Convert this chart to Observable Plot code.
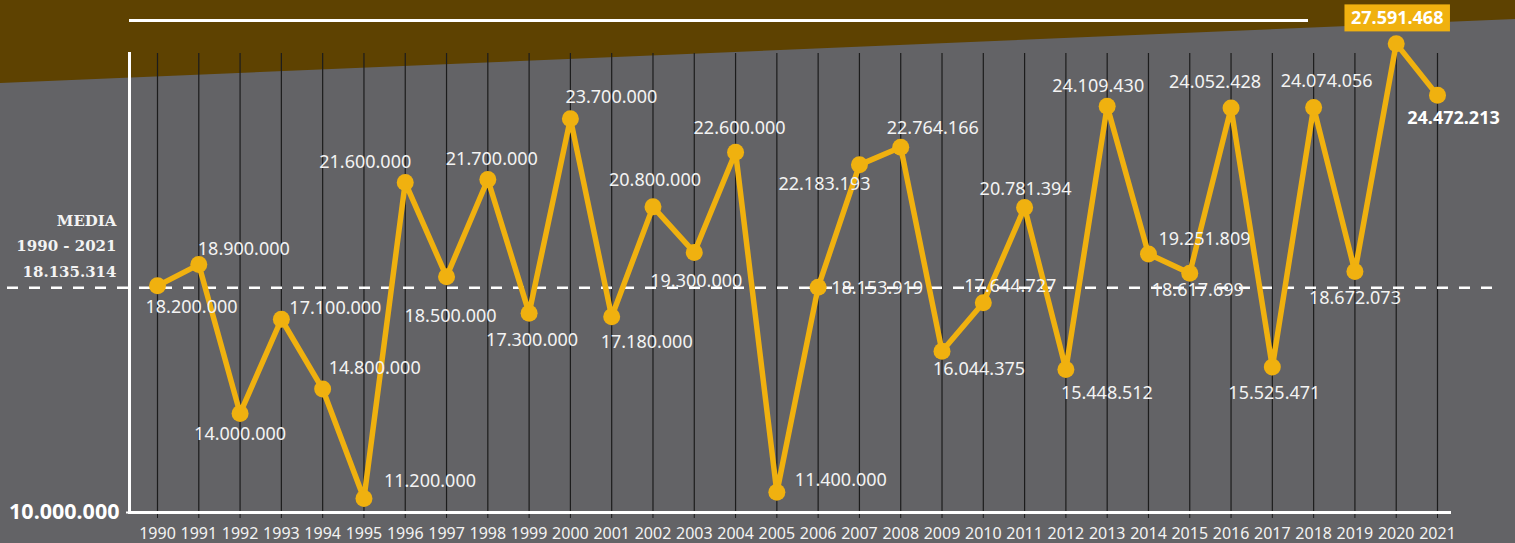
<!DOCTYPE html>
<html><head><meta charset="utf-8">
<script src="https://cdn.jsdelivr.net/npm/d3@7"></script>
<script src="https://cdn.jsdelivr.net/npm/@observablehq/plot@0.6"></script>
<style>
html,body{margin:0;padding:0;background:#636366;overflow:hidden;}
#wrap{position:relative;width:1515px;height:543px;background:#636366;overflow:hidden;}
#band{position:absolute;left:0;top:0;width:1515px;height:90px;background:#5e4201;clip-path:polygon(0 0,100% 0,100% 19px,0 83px);}
#topline{position:absolute;left:129px;top:19px;width:1179px;height:3px;background:#fff;}
#chart{position:absolute;left:0;top:0;}
</style></head><body>
<div id="wrap"><div id="band"></div><div id="topline"></div><div id="chart"></div></div>
<script>
const years = [1990,1991,1992,1993,1994,1995,1996,1997,1998,1999,2000,2001,2002,2003,2004,2005,
               2006,2007,2008,2009,2010,2011,2012,2013,2014,2015,2016,2017,2018,2019,2020,2021];
const values = [18200000,18900000,14000000,17100000,14800000,11200000,21600000,18500000,21700000,17300000,
                23700000,17180000,20800000,19300000,22600000,11400000,18153919,22183193,22764166,16044375,
                17644727,20781394,15448512,24109430,19251809,18617699,24052428,15525471,24074056,18672073,
                27591468,24472213];
const mean = 18135314;
const meanTitle = ["MEDIA", "1990 - 2021"];
const baseTick = [10000000];
// label nudges (px) relative to each point
const labelDx = [34,45,0,54,52,66,-40,4,4,3,41,35,2,2,4,64,59,-35,32,37,27,1,41,-9,56,8,-16,2,13,0,1,16];
const labelDy = [21,-15,21,-11,-21,-17,-20,40,-20,27,-22,25,-27,29,-24,-12,1,19,-19,18,-16,-18,24,-20,-15,17,-26,26,-26,27,-25,23];

const YELLOW = "#f0b10f";
const TXT = "#f3f3f3";
const fmt = d3.formatLocale({decimal: ",", thousands: ".", grouping: [3], currency: ["", ""]}).format(",d");
const idx = d3.range(years.length);
const hi = d3.maxIndex(values);
const last = years.length - 1;

const labelMarks = idx.map(i => Plot.text([i], {
  x: j => years[j], y: j => values[j], text: j => fmt(values[j]),
  dx: labelDx[i], dy: labelDy[i], fill: i === hi || i === last ? "#ffffff" : TXT,
  fontSize: 18, fontWeight: (i === hi || i === last) ? "bold" : "normal",
  fontFamily: "'Noto Sans', sans-serif"
}));

const chart = Plot.plot({
  width: 1515, height: 543,
  marginLeft: 129, marginRight: 66, marginTop: 53, marginBottom: 31,
  style: {background: "transparent", fontFamily: "'Noto Sans', sans-serif", fontSize: "16px", color: TXT, overflow: "visible"},
  x: {type: "linear", domain: [1990, 2021], range: [157, 1437], label: null},
  y: {type: "linear", domain: [10e6, 11e6, 24.5e6, 27.6e6], range: [512, 504, 94, 43], label: null},
  marks: [
    Plot.gridX(years, {stroke: "#1c1c1c", strokeOpacity: 1, strokeWidth: 1.2}),
    Plot.ruleY([mean], {stroke: "#ffffff", strokeWidth: 2.5, strokeDasharray: "11,11", insetLeft: -122, insetRight: -48}),
    Plot.axisX(years, {tickFormat: d => String(d), tickSize: 6, tickPadding: 9, stroke: "#1c1c1c", fill: TXT, fontSize: 16, label: null}),
    Plot.axisY(baseTick, {tickFormat: fmt, tickSize: 3, tickPadding: 7, stroke: "#ffffff", strokeWidth: 2, fill: "#ffffff", fontSize: 21.5, fontWeight: "bold", label: null}),
    Plot.frame({anchor: "left", stroke: "#ffffff", strokeWidth: 3}),
    Plot.frame({anchor: "bottom", stroke: "#ffffff", strokeWidth: 3}),
    Plot.line(idx, {x: i => years[i], y: i => values[i], stroke: YELLOW, strokeWidth: 5.5, strokeLinejoin: "round"}),
    Plot.dot(idx, {x: i => years[i], y: i => values[i], r: 8.5, fill: YELLOW}),
    ...labelMarks,
    Plot.text([mean], {
      y: d => d, frameAnchor: "left", dx: -13, dy: -11,
      text: d => meanTitle.join("\n") + "\n" + fmt(d),
      textAnchor: "end", lineAnchor: "bottom", lineHeight: 1.7,
      fontFamily: "'DejaVu Serif',serif", fontWeight: "bold", fontSize: 15, fill: TXT
    })
  ]
});
document.getElementById("chart").append(chart);

// highlight box behind the maximum's label
d3.select(chart).selectAll("text").filter(function() { return this.textContent === fmt(values[hi]); }).each(function() {
  const bb = this.getBBox();
  const cy = bb.y + bb.height / 2 + 0.5;
  const rect = document.createElementNS("http://www.w3.org/2000/svg", "rect");
  rect.setAttribute("x", bb.x - 6.5);
  rect.setAttribute("y", cy - 13.5);
  rect.setAttribute("width", bb.width + 13);
  rect.setAttribute("height", 27);
  rect.setAttribute("fill", YELLOW);
  const tf = this.getAttribute("transform");
  if (tf) rect.setAttribute("transform", tf);
  this.parentNode.insertBefore(rect, this);
});
</script>
</body></html>
